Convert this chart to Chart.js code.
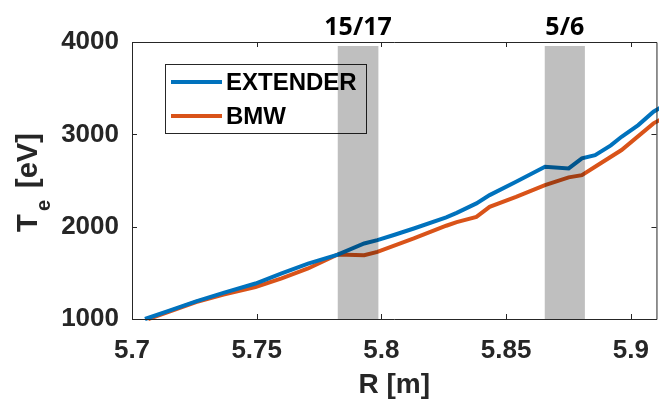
<!DOCTYPE html>
<html>
<head>
<meta charset="utf-8">
<script src="https://cdn.jsdelivr.net/npm/chart.js@4"></script>
<style>
  html, body { margin: 0; padding: 0; background: #fff; overflow: hidden; }
  #wrap { width: 659px; height: 402px; overflow: hidden; }
</style>
</head>
<body>
<div id="wrap"><canvas id="teChart" width="665" height="402"></canvas></div>
<script>
// values
const extR  = [5.7052, 5.715, 5.7257, 5.737, 5.7495, 5.76, 5.7706, 5.7825, 5.7931, 5.7984, 5.805, 5.813, 5.826, 5.8302, 5.8381, 5.8434, 5.854, 5.8656, 5.8751, 5.8804, 5.8857, 5.892, 5.8963, 5.903, 5.9091, 5.912];
const extTe = [1000, 1090, 1190, 1285, 1384, 1495, 1600, 1698, 1818, 1854, 1910, 1980, 2100, 2150, 2252, 2342, 2486, 2649, 2631, 2740, 2775, 2880, 2974, 3100, 3245, 3290];
const bmwR  = [5.7065, 5.7257, 5.7367, 5.7495, 5.76, 5.7706, 5.7825, 5.7931, 5.7984, 5.813, 5.826, 5.8302, 5.8381, 5.8434, 5.854, 5.8656, 5.8751, 5.8804, 5.8857, 5.8963, 5.9091, 5.912];
const bmwTe = [1000, 1184, 1265, 1347, 1440, 1547, 1698, 1691, 1727, 1872, 2010, 2050, 2106, 2215, 2323, 2450, 2534, 2558, 2649, 2830, 3119, 3160];

const xTicks = [5.7, 5.75, 5.8, 5.85, 5.9];
const yTicks = [1000, 2000, 3000, 4000];
const bands = [[5.7825, 5.7988], [5.8655, 5.8816]];
const bandLabels = ['15/17', '5/6'];

const axisColor = '#262626';
const fontFam = '"Liberation Sans", Arial, sans-serif';

const toPts = (xs, ys) => xs.map((x, i) => ({ x: x, y: ys[i] }));

const overlay = {
    id: 'overlay',
    afterDatasetsDraw(chart) {
        const { ctx, chartArea: a, scales } = chart;
        ctx.save();

        // legend box
        const lx = a.left + 33, ly = a.top + 22, lw = 201, lh = 69;
        ctx.fillStyle = '#fff';
        ctx.fillRect(lx, ly, lw, lh);
        ctx.strokeStyle = axisColor;
        ctx.lineWidth = 1;
        ctx.strokeRect(lx + 0.5, ly + 0.5, lw, lh);
        chart.data.datasets.forEach((ds, i) => {
            const yy = ly + 18 + i * 34;
            ctx.strokeStyle = ds.borderColor;
            ctx.lineWidth = 4;
            ctx.beginPath();
            ctx.moveTo(lx + 6, yy);
            ctx.lineTo(lx + 57, yy);
            ctx.stroke();
            ctx.fillStyle = '#000';
            ctx.font = 'bold 24px ' + fontFam;
            ctx.textBaseline = 'middle';
            ctx.textAlign = 'left';
            ctx.fillText(ds.label, lx + 61, yy + 1);
        });

        // shaded bands, over the lines
        ctx.fillStyle = 'rgba(0,0,0,0.25)';
        bands.forEach((b, i) => {
            const x0 = scales.x.getPixelForValue(b[0]);
            const x1 = scales.x.getPixelForValue(b[1]);
            ctx.fillRect(x0, a.top + 4, x1 - x0, a.bottom - a.top - 4);
            ctx.fillStyle = '#000';
            ctx.font = 'bold 25px "Open Sans", sans-serif';
            ctx.textAlign = 'center';
            ctx.textBaseline = 'alphabetic';
            ctx.fillText(bandLabels[i], (x0 + x1) / 2, a.top - 7);
            ctx.fillStyle = 'rgba(0,0,0,0.25)';
        });
        ctx.restore();
    },
    afterDraw(chart) {
        const { ctx, chartArea: a, scales } = chart;
        ctx.save();
        ctx.strokeStyle = axisColor;
        ctx.lineWidth = 1;
        ctx.beginPath();
        ctx.moveTo(a.left + 0.5, a.top + 0.5);
        ctx.lineTo(a.right + 0.5, a.top + 0.5);
        ctx.lineTo(a.right + 0.5, a.bottom + 0.5);
        ctx.lineTo(a.left + 0.5, a.bottom + 0.5);
        ctx.closePath();
        ctx.stroke();

        // inward ticks
        ctx.beginPath();
        xTicks.forEach(v => {
            const px = Math.round(scales.x.getPixelForValue(v)) + 0.5;
            ctx.moveTo(px, a.bottom); ctx.lineTo(px, a.bottom - 5);
            ctx.moveTo(px, a.top); ctx.lineTo(px, a.top + 5);
        });
        yTicks.forEach(v => {
            const py = Math.round(scales.y.getPixelForValue(v)) + 0.5;
            ctx.moveTo(a.left, py); ctx.lineTo(a.left + 5, py);
            ctx.moveTo(a.right, py); ctx.lineTo(a.right - 5, py);
        });
        ctx.stroke();

        // y title with subscript
        ctx.translate(37, 232);
        ctx.rotate(-Math.PI / 2);
        ctx.fillStyle = axisColor;
        ctx.textAlign = 'left';
        ctx.textBaseline = 'alphabetic';
        ctx.font = 'bold 29px ' + fontFam;
        ctx.fillText('T', 0, 0);
        ctx.font = 'bold 20px ' + fontFam;
        ctx.fillText('e', 21, 13);
        ctx.font = 'bold 29px ' + fontFam;
        ctx.fillText('[eV]', 44, 0);
        ctx.restore();
    }
};

const chart = new Chart(document.getElementById('teChart'), {
    type: 'line',
    data: {
        datasets: [
            { label: 'EXTENDER', data: toPts(extR, extTe), borderColor: '#0072BD', borderWidth: 4, pointRadius: 0, tension: 0, clip: 6 },
            { label: 'BMW', data: toPts(bmwR, bmwTe), borderColor: '#D95319', borderWidth: 4, pointRadius: 0, tension: 0, clip: 6 }
        ]
    },
    options: {
        responsive: false,
        animation: false,
        devicePixelRatio: 1,
        layout: { padding: { left: 0, top: 42, right: 3, bottom: 0 } },
        plugins: { legend: { display: false }, tooltip: { enabled: false } },
        scales: {
            x: {
                type: 'linear',
                min: 5.7,
                max: 5.9103,
                grid: { display: false, drawTicks: false },
                border: { display: false },
                afterBuildTicks: s => { s.ticks = xTicks.map(v => ({ value: v })); },
                afterFit: s => { s.height = 83; },
                ticks: {
                    padding: 16,
                    color: axisColor,
                    font: { family: fontFam, size: 26, weight: 'bold' },
                    maxRotation: 0,
                    callback: v => String(+v.toFixed(2))
                },
                title: {
                    display: true,
                    text: 'R [m]',
                    color: axisColor,
                    font: { family: fontFam, size: 28, weight: 'bold' },
                    padding: { top: -3, bottom: 0 }
                }
            },
            y: {
                min: 1000,
                max: 4000,
                grid: { display: false, drawTicks: false },
                border: { display: false },
                afterBuildTicks: s => { s.ticks = yTicks.map(v => ({ value: v })); },
                afterFit: s => { s.width = 132; },
                ticks: {
                    padding: 13,
                    color: axisColor,
                    font: { family: fontFam, size: 26, weight: 'bold' },
                    callback: v => String(v)
                }
            }
        }
    },
    plugins: [overlay]
});
</script>
</body>
</html>
